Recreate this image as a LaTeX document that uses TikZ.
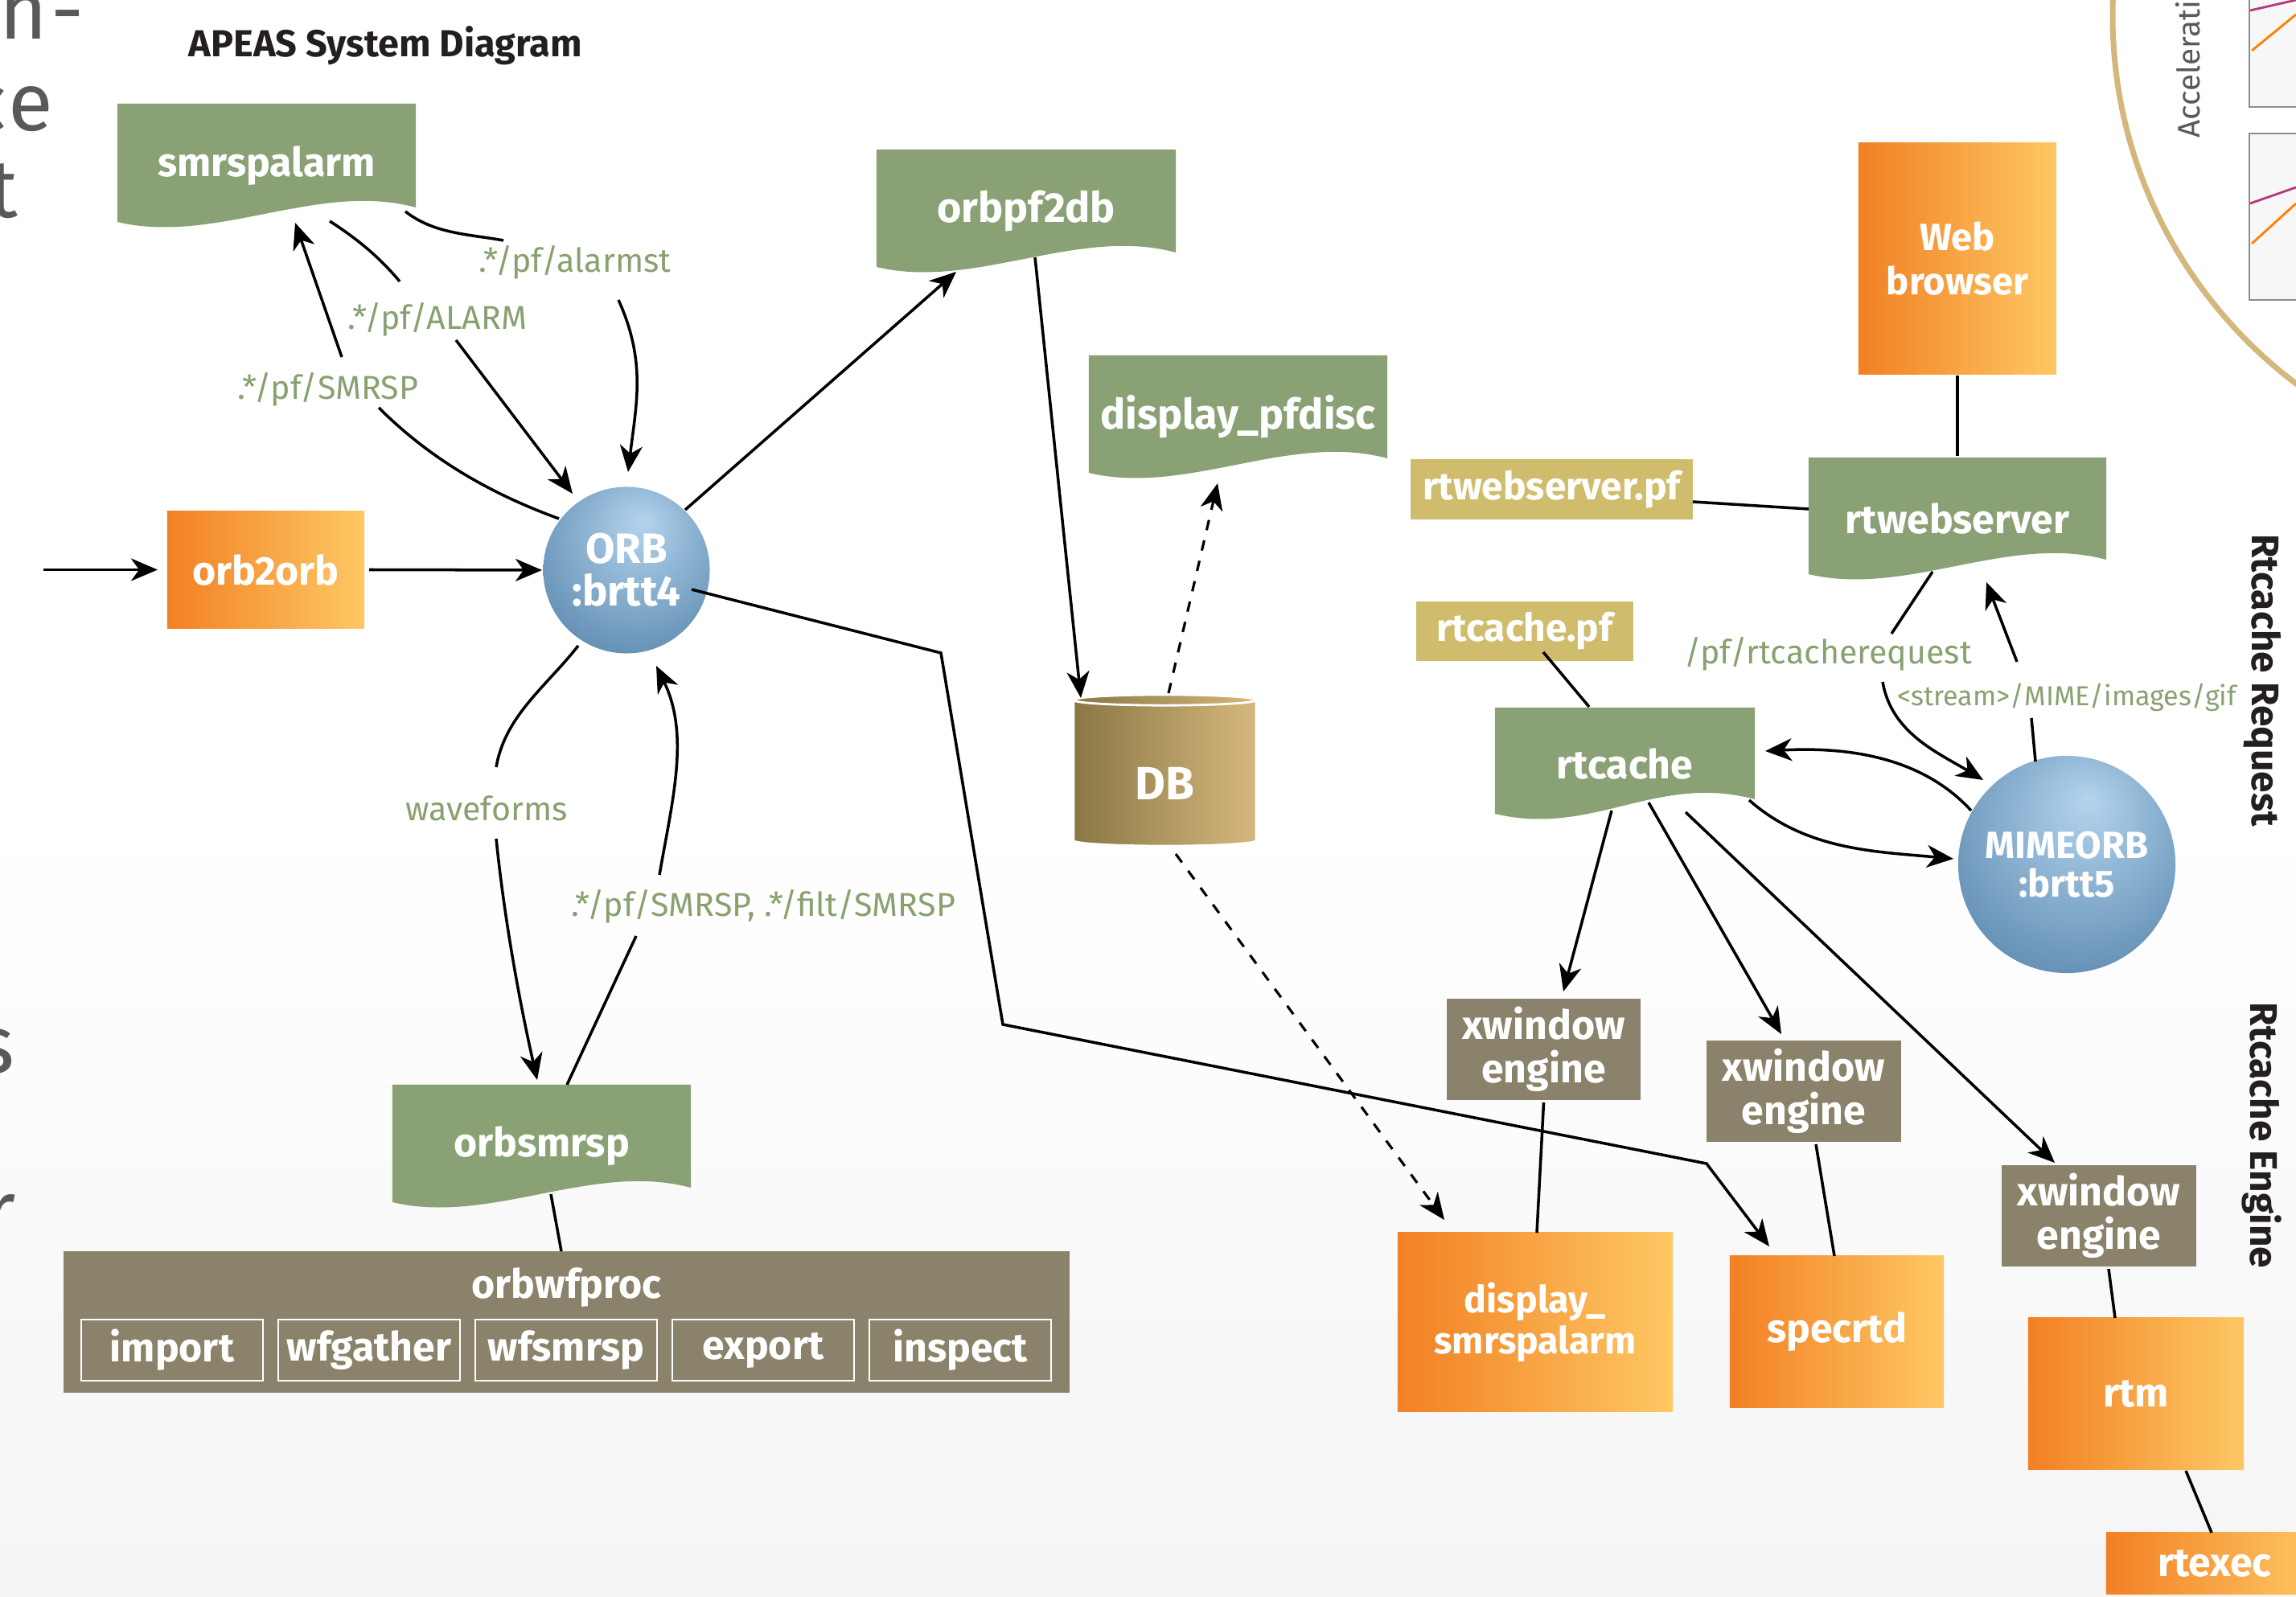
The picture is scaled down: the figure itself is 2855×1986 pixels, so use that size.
\documentclass[tikz,border=0pt]{standalone}
\usepackage{fontspec}
\setmainfont{Fira Sans}
\newfontfamily\fragfont{Fira Sans}[LetterSpace=4]
\usetikzlibrary{arrows.meta,shapes.geometric}

\definecolor{procgreen}{RGB}{138,161,118}
\definecolor{lblgreen}{RGB}{136,161,112}
\definecolor{pfkhaki}{RGB}{207,189,109}
\definecolor{enginegrey}{RGB}{138,130,106}
\definecolor{hostL}{RGB}{242,128,36}
\definecolor{hostR}{RGB}{254,200,100}
\definecolor{dbL}{RGB}{137,119,69}
\definecolor{dbR}{RGB}{214,184,125}
\definecolor{orbhi}{RGB}{180,212,238}
\definecolor{orblo}{RGB}{88,134,172}
\definecolor{inkblack}{RGB}{35,31,32}
\definecolor{arcgold}{RGB}{212,183,122}
\definecolor{fragment}{RGB}{88,89,91}

\pgfdeclareradialshading{orbball}{\pgfqpoint{5bp}{15bp}}{color(0bp)=(orbhi); color(38bp)=(orblo); color(60bp)=(orblo)}

\newcommand{\boxfont}{\bfseries\fontsize{14.2}{15.4}\selectfont}
\newcommand{\widefont}{\bfseries\fontsize{14.8}{15}\selectfont}
\newcommand{\lblfont}{\fontsize{11.7}{13}\selectfont}

\begin{document}
\begin{tikzpicture}[x=0.01cm, y=-0.01cm, line width=1pt,
    every node/.style={inner sep=0pt},
    procwave/.style={minimum width=3.71cm, minimum height=1.53cm, text=white, font=\boxfont,
      path picture={\fill[procgreen] (path picture bounding box.north west) -- (path picture bounding box.north east)
        -- ([yshift=2.5mm]path picture bounding box.south east)
        .. controls +(-1.22cm,3.3mm) and +(1.22cm,-2.9mm) .. ([yshift=0.7mm]path picture bounding box.south west) -- cycle;}},
    hostbox/.style={rectangle, left color=hostL, right color=hostR, text=white, font=\boxfont, align=center},
    pfbox/.style={rectangle, fill=pfkhaki, text=white, font=\bfseries\fontsize{13.6}{14}\selectfont},
    enginebox/.style={rectangle, fill=enginegrey, text=white, font=\boxfont, align=center,
      minimum width=2.41cm, minimum height=1.26cm},
    stagebox/.style={rectangle, draw=white, line width=0.7pt, text=white, font=\boxfont,
      minimum width=2.26cm, minimum height=0.76cm},
    orbnode/.style={circle, shade, shading=orbball, text=white, align=center},
    edgelbl/.style={text=lblgreen, font=\lblfont},
    fragtext/.style={anchor=base east, text=fragment, font=\fragfont\fontsize{29}{30}\selectfont},
    flow/.style={-{Stealth[length=3.3mm, width=2.8mm, inset=1mm]}},
    dashflow/.style={flow, line width=0.9pt, dash pattern=on 1.3mm off 1.3mm}]

    \useasboundingbox (0,0) rectangle (2855,1986);
    \clip (0,0) rectangle (2855,1986);
    \shade[top color=white, bottom color=black!4] (0,1015) rectangle (2855,1986);

    % bits of the poster around the diagram
    \node[fragtext] (frag1) at (106,49) {th-};
    \node[fragtext] (frag2) at (68,163) {ce};
    \node[fragtext] (frag3) at (24,271) {t};
    \node[fragtext] (frag4) at (20,1334) {s};
    \node[fragtext] (frag5) at (22,1540) {r};
    \draw[arcgold, line width=0.7mm] (3199,20) circle[radius=572];
    \draw[black!45, line width=0.4pt, fill=black!3] (2797,-5) rectangle (2870,133);
    \draw[black!45, line width=0.4pt, fill=black!3] (2797,166) rectangle (2870,373);
    \draw[magenta!70!black, line width=0.8pt] (2798,13) -- (2855,0);
    \draw[orange, line width=0.8pt] (2800,63) -- (2855,18);
    \draw[magenta!70!black, line width=0.8pt] (2798,253) -- (2855,233);
    \draw[orange, line width=0.8pt] (2800,303) -- (2855,253);
    \node[rotate=90, anchor=base west, text=fragment, font=\fontsize{11}{12}\selectfont] (accel) at (2735,173) {Accelerati};

    % title
    \node[anchor=base west, text=inkblack, font=\bfseries\fontsize{13.3}{14}\selectfont] (title) at (233,71) {APEAS System Diagram};

    % processes
    \node[procwave, minimum height=1.54cm] (smrspalarm) at (331.5,206) {smrspalarm};
    \node[hostbox, minimum width=2.45cm, minimum height=1.46cm] (orb2orb) at (330.5,708.5) {orb2orb};
    \node[orbnode, minimum size=2.07cm, font=\bfseries\fontsize{15}{15}\selectfont] (orb) at (779,709) {ORB\\:brtt4};
    \node[procwave, minimum width=3.72cm, font=\widefont] (orbpf2db) at (1276,262.5) {orbpf2db};
    \node[procwave, font=\widefont] (pfdisc) at (1539.5,518.5) {display\_pfdisc};
    \node[cylinder, shape border rotate=90, aspect=0.18, minimum width=2.27cm, minimum height=1.88cm,
          left color=dbL, right color=dbR, draw=white, line width=0.8pt, text=white,
          text height=6.4mm, text depth=0pt,
          font=\bfseries\fontsize{16.5}{17}\selectfont] (db) at (1448.5,962) {DB};
    \node[procwave] (orbsmrsp) at (673.5,1425.5) {orbsmrsp};
    \node[rectangle, fill=enginegrey, minimum width=12.51cm, minimum height=1.76cm] (orbwfproc) at (704.5,1644) {};
    \node[text=white, font=\boxfont] (wftitle) at (704.5,1601) {orbwfproc};
    \node[stagebox] (import) at (214,1679) {import};
    \node[stagebox] (wfgather) at (459,1679) {wfgather};
    \node[stagebox] (wfsmrsp) at (704,1679) {wfsmrsp};
    \node[stagebox] (export) at (949,1679) {export};
    \node[stagebox] (inspect) at (1194,1679) {inspect};

    \node[pfbox, minimum width=3.51cm, minimum height=0.75cm] (wspf) at (1929.5,608.5) {rtwebserver.pf};
    \node[procwave, minimum width=3.70cm, minimum height=1.52cm] (rtweb) at (2434,645) {rtwebserver};
    \node[hostbox, minimum width=2.46cm, minimum height=2.87cm, font=\bfseries\fontsize{13.4}{15.6}\selectfont] (browser) at (2434,321.5) {Web\\browser};
    \node[pfbox, minimum width=2.70cm, minimum height=0.74cm] (rcpf) at (1896,785) {rtcache.pf};
    \node[procwave, minimum width=3.23cm, minimum height=1.39cm] (rtcache) at (2020.5,949.5) {rtcache};
    \node[orbnode, minimum size=2.70cm, font=\bfseries\fontsize{13.4}{13.7}\selectfont] (mimeorb) at (2570,1075) {MIMEORB\\:brtt5};

    \node[enginebox] (xw1) at (1919.5,1305) {xwindow\\engine};
    \node[enginebox] (xw2) at (2243,1357) {xwindow\\engine};
    \node[enginebox] (xw3) at (2610,1512) {xwindow\\engine};
    \node[hostbox, minimum width=3.42cm, minimum height=2.22cm, font=\bfseries\fontsize{13.2}{14.5}\selectfont] (dsmrsp) at (1909,1644) {display\_\\smrspalarm};
    \node[hostbox, minimum width=2.66cm, minimum height=1.88cm] (specrtd) at (2284,1656) {specrtd};
    \node[hostbox, minimum width=2.68cm, minimum height=1.88cm] (rtm) at (2656,1733) {rtm};
    \node[hostbox, minimum width=2.70cm, minimum height=0.76cm] (rtexec) at (2754,1944) {rtexec};

    \node[rotate=-90, text=inkblack, font=\bfseries\fontsize{13.6}{14}\selectfont] (reqtag) at (2813,846) {Rtcache Request};
    \node[rotate=-90, text=inkblack, font=\bfseries\fontsize{13.6}{14}\selectfont] (engtag) at (2813,1412) {Rtcache Engine};

    % edge labels
    \node[edgelbl] (alarmst) at (715,326) {.*/pf/alarmst};
    \node[edgelbl] (alarm) at (544,397) {.*/pf/ALARM};
    \node[edgelbl] (smrsptag) at (408,484) {.*/pf/SMRSP};
    \node[edgelbl] (wavetag) at (605,1005) {waveforms};
    \node[edgelbl] (filttag) at (949,1127) {.*/pf/SMRSP, .*/filt/SMRSP};
    \node[edgelbl] (reqpath) at (2273,813) {/pf/rtcacherequest};
    \node[edgelbl, font=\fontsize{9.7}{12}\selectfont] (giftag) at (2570,867) {<stream>/MIME/images/gif};

    \coordinate (feed) at (54,708.5);
    \coordinate (bendA) at (1170,812);
    \coordinate (bendB) at (1247,1274);
    \coordinate (bendC) at (2122,1447);

    % left half
    \draw[flow] (feed) -- ([shift={(-134.5,0)}]orb2orb.center);
    \draw[flow] ([shift={(128.5,0)}]orb2orb.center) -- ([shift={(-105,0)}]orb.center);
    \draw ([shift={(172.5,57)}]smrspalarm.center) .. controls +(36,28) and +(-44,-8) .. ([shift={(-89,-27)}]alarmst.center);
    \draw[flow] ([shift={(54,47)}]alarmst.center) .. controls +(35,77) and +(10,-84) .. ([shift={(2,-122)}]orb.center);
    \draw ([shift={(78.5,69)}]smrspalarm.center) .. controls +(34,22) and +(-26,-31) .. ([shift={(-47,-47)}]alarm.center);
    \draw[flow] ([shift={(23,26)}]alarm.center) -- ([shift={(-67,-95)}]orb.center);
    \draw ([shift={(-84,-64)}]orb.center) .. controls +(-85,-31) and +(64,64) .. ([shift={(63,23)}]smrsptag.center);
    \draw[flow] ([shift={(17,-40)}]smrsptag.center) -- ([shift={(35.5,71)}]smrspalarm.center);
    \draw ([shift={(-60,94)}]orb.center) .. controls +(-40,51) and +(11,-64) .. ([shift={(12,-51)}]wavetag.center);
    \draw[flow] ([shift={(12,38)}]wavetag.center) .. controls +(10,99) and +(-22,-97) .. ([shift={(-5.5,-82.5)}]orbsmrsp.center);
    \draw ([shift={(31.5,-76.5)}]orbsmrsp.center) -- ([shift={(-158,37)}]filttag.center);
    \draw[flow] ([shift={(-129,-39)}]filttag.center) .. controls +(16,-93) and +(42,86) .. ([shift={(37,119)}]orb.center);
    \draw ([shift={(11.5,59.5)}]orbsmrsp.center) -- ([shift={(-6.5,-88)}]orbwfproc.center);
    \draw[flow] ([shift={(73,-75)}]orb.center) -- ([shift={(-87,75.5)}]orbpf2db.center);
    \draw[flow] ([shift={(11,57.5)}]orbpf2db.center) -- ([shift={(-104.5,-94)}]db.center);
    \draw[dashflow] ([shift={(4.5,-100)}]db.center) -- ([shift={(-25.5,82.5)}]pfdisc.center);
    \draw[dashflow] ([shift={(13.5,100)}]db.center) -- ([shift={(-113,-127)}]dsmrsp.center);
    \draw[flow] ([shift={(81,24)}]orb.center) -- (bendA) -- (bendB) -- (bendC) -- ([shift={(-84,-106)}]specrtd.center);

    % right half
    \draw (browser.south) -- (rtweb.north);
    \draw ([shift={(175.5,15.5)}]wspf.center) -- ([shift={(-185,-12)}]rtweb.center);
    \draw ([shift={(23,26)}]rcpf.center) -- ([shift={(-44.5,-70.5)}]rtcache.center);
    \draw ([shift={(-31,66)}]rtweb.center) -- ([shift={(79,-25)}]reqpath.center);
    \draw[flow] ([shift={(68,35)}]reqpath.center) .. controls +(11,64) and +(-56,-34) .. ([shift={(-104,-105)}]mimeorb.center);
    \draw ([shift={(-39,-128)}]mimeorb.center) -- ([shift={(-44,26)}]giftag.center);
    \draw[flow] ([shift={(-62,-44)}]giftag.center) -- ([shift={(36,79)}]rtweb.center);
    \draw[flow] ([shift={(-119,-67)}]mimeorb.center) .. controls +(-64,-70) and +(95,-5) .. ([shift={(174.5,-15.5)}]rtcache.center);
    \draw[flow] ([shift={(154.5,45.5)}]rtcache.center) .. controls +(71,63) and +(-95,-9) .. ([shift={(-141,-7)}]mimeorb.center);
    \draw[flow] ([shift={(-16.5,58.5)}]rtcache.center) -- ([shift={(24.5,-72)}]xw1.center);
    \draw[flow] ([shift={(29.5,48.5)}]rtcache.center) -- ([shift={(-28,-71)}]xw2.center);
    \draw[flow] ([shift={(75.5,60.5)}]rtcache.center) -- ([shift={(-55,-66)}]xw3.center);
    \draw ([shift={(0,66)}]xw1.center) -- ([shift={(2,-111)}]dsmrsp.center);
    \draw ([shift={(15,66)}]xw2.center) -- ([shift={(-3,-94)}]specrtd.center);
    \draw ([shift={(12,66)}]xw3.center) -- ([shift={(-26,-94)}]rtm.center);
    \draw ([shift={(62,96)}]rtm.center) -- ([shift={(-4,-38)}]rtexec.center);
\end{tikzpicture}
\end{document}
